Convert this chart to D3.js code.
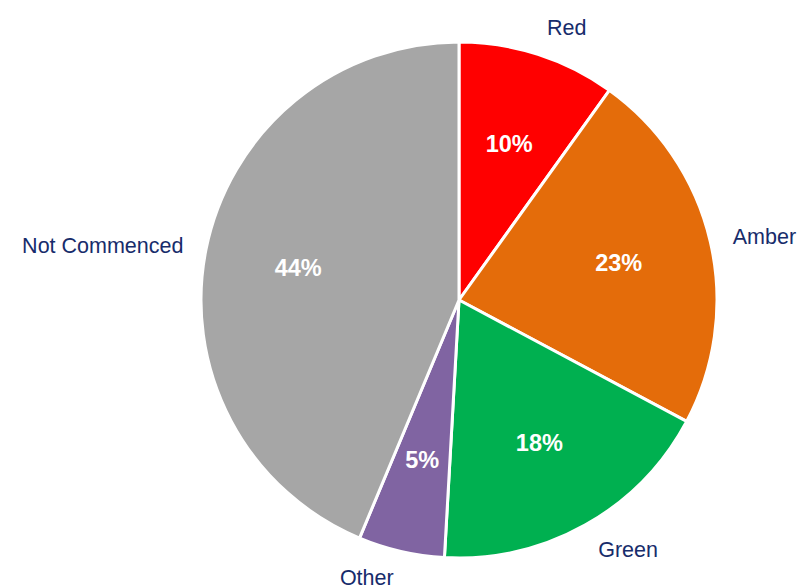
<!DOCTYPE html>
<html>
<head>
<meta charset="utf-8">
<script src="https://cdn.jsdelivr.net/npm/d3@7"></script>
<style>
  body { margin: 0; background: #fff; }
  text { font-family: "Liberation Sans", Arial, sans-serif; }
</style>
</head>
<body>
<div id="chart"></div>
<script>
var categories = ["Red", "Amber", "Green", "Other", "Not Commenced"];
var values = [9.9, 22.9, 18.1, 5.4, 43.7];
var colors = ["#FF0000", "#E46C0A", "#00B050", "#8064A2", "#A6A6A6"];

var svgWidth = 799;
var svgHeight = 588;
var cx = 459, cy = 300, radius = 258;

var svg = d3.select("#chart")
    .append("svg")
    .attr("width", svgWidth)
    .attr("height", svgHeight);

var g = svg.append("g")
    .attr("transform", `translate(${cx}, ${cy})`);

var data = categories.map((c, i) => ({ name: c, value: values[i], color: colors[i] }));
var total = d3.sum(values);

var pie = d3.pie()
    .value(d => d.value)
    .sort(null);

var arc = d3.arc()
    .innerRadius(0)
    .outerRadius(radius);

var pctArc = d3.arc()
    .innerRadius(164)
    .outerRadius(164);

var arcs = pie(data);

// slices
g.selectAll("path")
    .data(arcs)
    .enter()
    .append("path")
    .attr("d", arc)
    .attr("fill", d => d.data.color)
    .attr("stroke", "#fff")
    .attr("stroke-width", 3)
    .attr("stroke-linejoin", "round");

// percentages inside
g.selectAll(".pct")
    .data(arcs)
    .enter()
    .append("text")
    .attr("class", "pct")
    .attr("transform", d => `translate(${pctArc.centroid(d)})`)
    .attr("text-anchor", "middle")
    .attr("dy", "0.35em")
    .attr("fill", "#fff")
    .attr("font-size", 23.5)
    .attr("font-weight", "bold")
    .text(d => Math.round(d.data.value / total * 100) + "%");

// category labels outside
var labelR = 278;
g.selectAll(".lbl")
    .data(arcs)
    .enter()
    .append("text")
    .attr("class", "lbl")
    .each(function (d) {
        var a = (d.startAngle + d.endAngle) / 2;
        var s = Math.sin(a), c = Math.cos(a);
        var x = labelR * s + (s >= 0 ? 3 : -3), y = -labelR * c;
        var anchor = s >= 0 ? "start" : "end";
        var dy = c > 0.5 ? "0em" : (c < -0.5 ? "0.66em" : "0.35em");
        d3.select(this)
            .attr("x", x)
            .attr("y", y)
            .attr("dy", dy)
            .attr("text-anchor", anchor);
    })
    .attr("fill", "#172C6B")
    .attr("font-size", 21.5)
    .text(d => d.data.name);
</script>
</body>
</html>
